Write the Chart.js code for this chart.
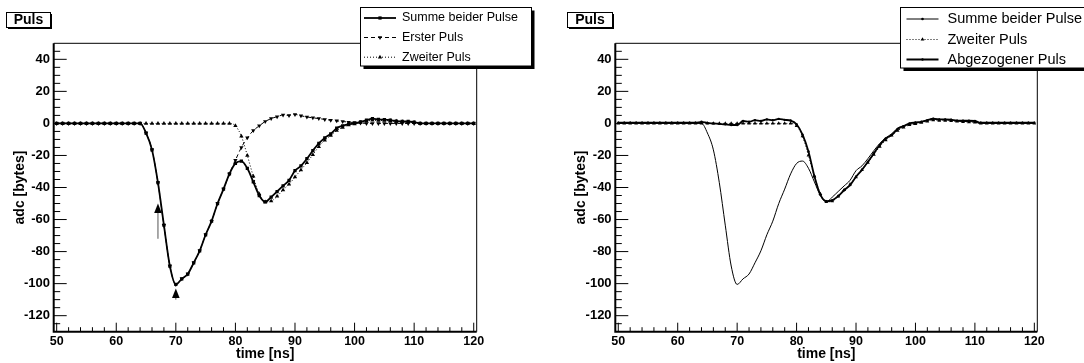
<!DOCTYPE html>
<html>
<head>
<meta charset="utf-8">
<title>Puls</title>
<script src="https://cdn.jsdelivr.net/npm/chart.js@4.4.1/dist/chart.umd.min.js"></script>
<style>
    html, body { margin: 0; padding: 0; background: #fff; }
    #wrap { position: relative; width: 1084px; height: 363px; overflow: hidden; }
    canvas { position: absolute; top: 0; }
    #left { left: 0; }
    #right { left: 540px; }
</style>
</head>
<body>
<div id="wrap">
    <canvas id="left" width="540" height="363"></canvas>
    <canvas id="right" width="544" height="363"></canvas>
</div>
<script>
var panelTitle = 'Puls';
var xTitle = 'time [ns]';
var yTitle = 'adc [bytes]';

var xTicks = [50, 60, 70, 80, 90, 100, 110, 120];
var yTicks = [-120, -100, -80, -60, -40, -20, 0, 20, 40];

// sample times, 1 ns apart
var timeNs = [
    50, 51, 52, 53, 54, 55, 56, 57, 58, 59,
    60, 61, 62, 63, 64, 65, 66, 67, 68, 69,
    70, 71, 72, 73, 74, 75, 76, 77, 78, 79,
    80, 81, 82, 83, 84, 85, 86, 87, 88, 89,
    90, 91, 92, 93, 94, 95, 96, 97, 98, 99,
    100, 101, 102, 103, 104, 105, 106, 107, 108, 109,
    110, 111, 112, 113, 114, 115, 116, 117, 118, 119,
    120
];

var summe = [
    0, 0, 0, 0, 0, 0, 0, 0, 0, 0,
    0, 0, 0, 0, 0, -6, -16.5, -37, -63.5, -89,
    -100.5, -97, -94, -87, -79.5, -69.5, -61, -50, -41, -31.5,
    -25, -23.5, -28, -36.5, -45, -49, -46, -42.5, -39, -35.5,
    -29.5, -26.5, -22, -17, -12.5, -9, -6.5, -3, -1.5, -0.5,
    0, 1, 2, 3, 2.5, 2.3, 2, 1.5, 1.2, 1.2,
    0.8, 0, 0, 0, 0, 0, 0, 0, 0, 0,
    0
];

var ersterPuls = [
    0, 0, 0, 0, 0, 0, 0, 0, 0, 0,
    0, 0, 0, 0, 0, -6, -16.5, -37, -63.5, -89,
    -100.5, -97, -94, -87, -79.5, -69.5, -61, -50, -41, -31.5,
    -23, -15, -9, -4.5, -1.5, 1.2, 3, 4.2, 5.2, 5,
    5.6, 4.8, 4, 3.5, 3, 2.5, 2, 1.6, 1.2, 0.8,
    0.5, 0.3, 0, 0, 0, 0, 0, 0, 0, 0,
    0, 0, 0, 0, 0, 0, 0, 0, 0, 0,
    0
];

var zweiterPuls = [
    0, 0, 0, 0, 0, 0, 0, 0, 0, 0,
    0, 0, 0, 0, 0, 0, 0, 0, 0, 0,
    0, 0, 0, 0, 0, 0, 0, 0, 0, 0,
    -1.5, -8, -20, -33, -44, -49, -48.5, -45.5, -41.5, -38,
    -33.5, -29, -24.5, -19.5, -14.5, -10.5, -7.5, -4.5, -2.5, -1,
    -0.3, 0.5, 1.3, 2, 1.8, 1.8, 1.6, 1.3, 1, 0.8,
    0.6, 0, 0, 0, 0, 0, 0, 0, 0, 0,
    0
];

var abgezogen = [
    0.4, 0.4, 0.4, 0.4, 0.4, 0.4, 0.4, 0.4, 0.4, 0.4,
    0.4, 0.4, 0.4, 0.4, 1, 0.3, 0, -0.3, -0.6, -1,
    -1, 1.5, 1, 2, 1.5, 2.5, 2, 2.8, 2.2, 1.8,
    -0.5, -7, -17.5, -33, -44.5, -48.5, -48, -45.4, -41.7, -38.5,
    -33.3, -29, -24, -18.7, -13.5, -9.4, -7.3, -3.5, -1.7, 0,
    0.6, 1, 2, 2.9, 2.5, 2.5, 2.3, 1.7, 1.7, 1.7,
    1.5, 0.4, 0.4, 0.4, 0.4, 0.4, 0.4, 0.4, 0.4, 0.4,
    0.4
];

// arrows marking the first pulse (time, tip, tail in adc)
var arrowTimes = [67, 70];
var arrowTips = [-50, -103];
var arrowTails = [-72, -110];

var FONT = '"Liberation Sans", Arial, Helvetica, sans-serif';
Chart.defaults.font.family = FONT;

function points(values) {
    return timeNs.map(function(t, i) { return { x: t, y: values[i] }; });
}

/**
 * Frame, inward ticks, arrows, legend and title box.
 */
var rootStyle = {
    id: 'rootStyle',
    afterDatasetsDraw: function(chart, args, opts) {
        var ctx = chart.ctx, a = chart.chartArea;
        var xs = chart.scales.x, ys = chart.scales.y;
        var v, p;
        ctx.save();
        ctx.strokeStyle = '#000';

        // thin top and right frame
        ctx.lineWidth = 1;
        ctx.beginPath();
        ctx.moveTo(a.left, a.top);
        ctx.lineTo(a.right, a.top);
        ctx.lineTo(a.right, a.bottom);
        ctx.stroke();

        // tick marks pointing inside
        ctx.beginPath();
        for (v = -125; v < 50; v += 5) {
            p = ys.getPixelForValue(v);
            ctx.moveTo(a.left, p);
            ctx.lineTo(a.left + (v % 20 === 0 ? 13 : 6.5), p);
        }
        for (v = 50; v <= 120; v += 2) {
            p = xs.getPixelForValue(v);
            ctx.moveTo(p, a.bottom);
            ctx.lineTo(p, a.bottom - (v % 10 === 0 ? 9 : 4.5));
        }
        ctx.stroke();

        // heavy axis lines
        ctx.lineWidth = 2;
        ctx.beginPath();
        ctx.moveTo(a.left, a.top);
        ctx.lineTo(a.left, a.bottom);
        ctx.lineTo(a.right, a.bottom);
        ctx.stroke();

        if (opts.arrows) {
            var ar = opts.arrows;
            ar.x.forEach(function(t, i) {
                var px = xs.getPixelForValue(t);
                var tip = ys.getPixelForValue(ar.tip[i]);
                var tail = ys.getPixelForValue(ar.tail[i]);
                ctx.strokeStyle = '#555';
                ctx.lineWidth = 1;
                ctx.beginPath();
                ctx.moveTo(px, tail);
                ctx.lineTo(px, tip + 8);
                ctx.stroke();
                ctx.fillStyle = '#000';
                ctx.beginPath();
                ctx.moveTo(px, tip);
                ctx.lineTo(px - 3.8, tip + 9.5);
                ctx.lineTo(px + 3.8, tip + 9.5);
                ctx.closePath();
                ctx.fill();
            });
        }
        ctx.restore();
    },
    afterDraw: function(chart, args, opts) {
        var ctx = chart.ctx;
        ctx.save();

        // title box
        var tb = opts.titleBox;
        ctx.fillStyle = '#000';
        ctx.fillRect(tb.x + 1.5, tb.y + 1.5, tb.w, tb.h);
        ctx.fillStyle = '#fff';
        ctx.fillRect(tb.x, tb.y, tb.w, tb.h);
        ctx.strokeStyle = '#000';
        ctx.lineWidth = 1;
        ctx.strokeRect(tb.x, tb.y, tb.w, tb.h);
        ctx.fillStyle = '#000';
        ctx.font = 'bold 14px ' + FONT;
        ctx.textAlign = 'center';
        ctx.textBaseline = 'middle';
        ctx.fillText(panelTitle, tb.x + tb.w / 2, tb.y + tb.h / 2 + 0.5);

        // legend box with shadow
        var lg = opts.legend;
        ctx.fillStyle = '#000';
        ctx.fillRect(lg.x + 3, lg.y + 3, lg.w, lg.h);
        ctx.fillStyle = '#fff';
        ctx.fillRect(lg.x, lg.y, lg.w, lg.h);
        ctx.strokeRect(lg.x, lg.y, lg.w, lg.h);

        lg.order.forEach(function(di, row) {
            var ds = chart.data.datasets[di];
            var y = lg.rows[row];
            ctx.save();
            ctx.strokeStyle = '#000';
            ctx.fillStyle = '#000';
            ctx.lineWidth = ds.borderWidth;
            ctx.setLineDash(ds.borderDash || []);
            ctx.beginPath();
            ctx.moveTo(lg.x0, y);
            ctx.lineTo(lg.x1, y);
            ctx.stroke();
            ctx.setLineDash([]);
            Chart.helpers.drawPoint(ctx, {
                pointStyle: ds.pointStyle,
                rotation: ds.pointRotation || 0,
                radius: ds.pointRadius || 1.3,
                borderWidth: 0
            }, (lg.x0 + lg.x1) / 2, y);
            ctx.restore();
            ctx.fillStyle = '#000';
            ctx.font = lg.font;
            ctx.textAlign = 'left';
            ctx.textBaseline = 'middle';
            ctx.fillText(ds.label, lg.textX, y);
        });
        ctx.restore();
    }
};

function makeScales() {
    return {
        x: {
            type: 'linear',
            min: 49.5,
            max: 120.5,
            afterBuildTicks: function(s) {
                s.ticks = xTicks.map(function(v) { return { value: v }; });
            },
            afterFit: function(s) { s.height = 31.3; },
            grid: { display: false, drawTicks: false, tickLength: 0 },
            border: { display: false },
            ticks: {
                color: '#000',
                font: { size: 12.5, weight: 'bold' },
                padding: 2,
                maxRotation: 0,
                autoSkip: false
            },
            title: {
                display: true,
                text: xTitle,
                color: '#000',
                font: { size: 14, weight: 'bold' },
                padding: { top: 0, bottom: 0.6 }
            }
        },
        y: {
            type: 'linear',
            min: -130,
            max: 50,
            afterBuildTicks: function(s) {
                s.ticks = yTicks.map(function(v) { return { value: v }; });
            },
            afterFit: function(s) { s.width = 53.7; },
            grid: { display: false, drawTicks: false, tickLength: 0 },
            border: { display: false },
            ticks: {
                color: '#000',
                font: { size: 13, weight: 'bold' },
                padding: 3.7,
                autoSkip: false
            },
            title: {
                display: true,
                text: yTitle,
                color: '#000',
                font: { size: 14, weight: 'bold' },
                padding: { top: 11.6, bottom: 0 }
            }
        }
    };
}

function render(canvasId, datasets, padding, style) {
    return new Chart(document.getElementById(canvasId), {
        type: 'line',
        data: { datasets: datasets },
        options: {
            responsive: false,
            animation: false,
            devicePixelRatio: 1,
            events: [],
            layout: { padding: padding },
            plugins: {
                legend: { display: false },
                tooltip: { enabled: false },
                rootStyle: style
            },
            scales: makeScales()
        },
        plugins: [rootStyle]
    });
}

render('left', [
    {
        label: 'Summe beider Pulse',
        data: points(summe),
        borderColor: '#000',
        backgroundColor: '#000',
        borderWidth: 1.8,
        pointStyle: 'rect',
        pointRadius: 2.3,
        pointBorderWidth: 0,
        cubicInterpolationMode: 'monotone'
    },
    {
        label: 'Erster Puls',
        data: points(ersterPuls),
        borderColor: '#000',
        backgroundColor: '#000',
        borderWidth: 1,
        borderDash: [4, 3],
        pointStyle: 'triangle',
        pointRotation: 180,
        pointRadius: 2.5,
        pointBorderWidth: 0,
        cubicInterpolationMode: 'monotone'
    },
    {
        label: 'Zweiter Puls',
        data: points(zweiterPuls),
        borderColor: '#000',
        backgroundColor: '#000',
        borderWidth: 1,
        borderDash: [1, 2],
        pointStyle: 'triangle',
        pointRadius: 2.5,
        pointBorderWidth: 0,
        cubicInterpolationMode: 'monotone'
    }
], { left: 0, top: 43.3, right: 63.3, bottom: 0 }, {
    titleBox: { x: 6.5, y: 12.5, w: 44, h: 15 },
    legend: {
        x: 360.5, y: 7.5, w: 171, h: 58.5,
        rows: [18, 37.5, 57.2],
        x0: 364, x1: 396, textX: 402,
        font: '12.5px ' + FONT,
        order: [0, 1, 2]
    },
    arrows: { x: arrowTimes, tip: arrowTips, tail: arrowTails }
});

render('right', [
    {
        label: 'Abgezogener Puls',
        data: points(abgezogen),
        borderColor: '#000',
        backgroundColor: '#000',
        borderWidth: 1.8,
        pointStyle: 'circle',
        pointRadius: 1.2,
        pointBorderWidth: 0,
        cubicInterpolationMode: 'monotone'
    },
    {
        label: 'Zweiter Puls',
        data: points(zweiterPuls),
        borderColor: '#000',
        backgroundColor: '#000',
        borderWidth: 1,
        borderDash: [1, 2],
        pointStyle: 'triangle',
        pointRadius: 2.2,
        pointBorderWidth: 0,
        cubicInterpolationMode: 'monotone'
    },
    {
        label: 'Summe beider Pulse',
        data: points(summe),
        borderColor: '#000',
        backgroundColor: '#000',
        borderWidth: 1,
        pointStyle: 'circle',
        pointRadius: 0,
        cubicInterpolationMode: 'monotone'
    }
], { left: 21.6, top: 43.3, right: 46.7, bottom: 0 }, {
    titleBox: { x: 27.5, y: 12.5, w: 45, h: 15 },
    legend: {
        x: 360.5, y: 7.5, w: 250, h: 60.5,
        rows: [19, 39.5, 59.5],
        x0: 366.5, x1: 398.5, textX: 407.5,
        font: '14.5px ' + FONT,
        order: [2, 1, 0]
    }
});
</script>
</body>
</html>
